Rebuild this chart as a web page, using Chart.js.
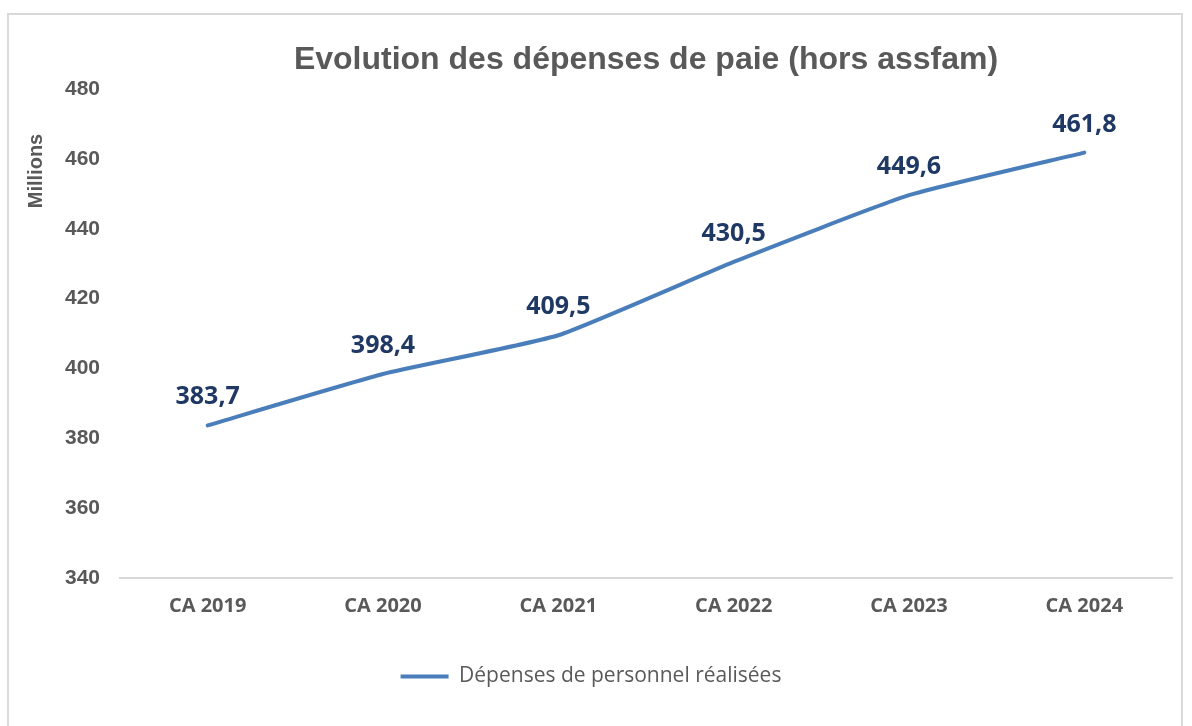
<!DOCTYPE html>
<html>
<head>
<meta charset="utf-8">
<script src="https://cdn.jsdelivr.net/npm/chart.js@4"></script>
<style>
  html, body { margin: 0; padding: 0; background: #fff; }
  #frame { position: absolute; left: 7px; top: 13px; width: 1176px; height: 720px; border: 2px solid #d9d9d9; box-sizing: border-box; }
  #wrap { position: absolute; left: 0; top: 0; width: 1192px; height: 726px; }
</style>
</head>
<body>
<div id="frame"></div>
<div id="wrap"><canvas id="paie" width="1192" height="726"></canvas></div>
<script>
// data
var categories = ['CA 2019', 'CA 2020', 'CA 2021', 'CA 2022', 'CA 2023', 'CA 2024'];
var depenses = [383.7, 398.4, 409.5, 430.5, 449.6, 461.8];
var yTicks = [340, 360, 380, 400, 420, 440, 460, 480];

var grey = '#595959';
var navy = '#1f3864';
var lineBlue = '#4a7ebb';

// value labels above each point + rotated "Millions"
var extraText = {
    id: 'extraText',
    afterDatasetsDraw: function (chart) {
        var ctx = chart.ctx;
        var meta = chart.getDatasetMeta(0);
        ctx.save();
        ctx.fillStyle = navy;
        ctx.font = 'bold 25px "Open Sans"';
        ctx.textAlign = 'center';
        ctx.textBaseline = 'middle';
        meta.data.forEach(function (pt, i) {
            var txt = depenses[i].toFixed(1).replace('.', ',');
            ctx.fillText(txt, pt.x, pt.y - 28);
        });
        ctx.restore();

        ctx.save();
        ctx.translate(36, 171);
        ctx.rotate(-Math.PI / 2);
        ctx.fillStyle = grey;
        ctx.font = 'bold 20px "Liberation Sans"';
        ctx.textAlign = 'center';
        ctx.textBaseline = 'middle';
        ctx.fillText('Millions', 0, 0);
        ctx.restore();
    }
};

var ctx = document.getElementById('paie').getContext('2d');
var paieChart = new Chart(ctx, {
    type: 'line',
    data: {
        labels: categories,
        datasets: [{
            label: 'Dépenses de personnel réalisées',
            data: depenses,
            borderColor: lineBlue,
            backgroundColor: lineBlue,
            borderWidth: 4,
            borderCapStyle: 'round',
            tension: 0.15,
            pointRadius: 0,
            pointHoverRadius: 0,
            fill: false
        }]
    },
    options: {
        responsive: false,
        animation: false,
        layout: { padding: { left: 10, right: 20, top: 0, bottom: 29 } },
        plugins: {
            title: {
                display: true,
                text: 'Evolution des dépenses de paie (hors assfam)',
                color: grey,
                fullSize: false,
                font: { family: '"Liberation Sans"', size: 32, weight: 'bold' },
                padding: { top: 41, bottom: 9.6 }
            },
            legend: {
                position: 'bottom',
                labels: {
                    color: grey,
                    font: { family: '"Open Sans"', size: 21 },
                    usePointStyle: true,
                    pointStyle: 'line',
                    pointStyleWidth: 48,
                    padding: 10
                }
            },
            tooltip: { enabled: false }
        },
        scales: {
            x: {
                offset: true,
                grid: { display: false, drawTicks: false },
                border: { display: true, color: '#d9d9d9', width: 2 },
                ticks: {
                    color: grey,
                    font: { family: '"Open Sans"', size: 20, weight: 'bold' },
                    padding: 16,
                    maxRotation: 0
                },
                afterFit: function (scale) { scale.height = 78; }
            },
            y: {
                min: 340,
                max: 480,
                afterBuildTicks: function (scale) {
                    scale.ticks = yTicks.map(function (v) { return { value: v }; });
                },
                grid: { display: false, drawTicks: false },
                border: { display: false },
                ticks: {
                    color: grey,
                    font: { family: '"Liberation Sans"', size: 21, weight: 'bold' },
                    padding: 20
                },
                afterFit: function (scale) { scale.width = 110; }
            }
        }
    },
    plugins: [extraText]
});
</script>
</body>
</html>
